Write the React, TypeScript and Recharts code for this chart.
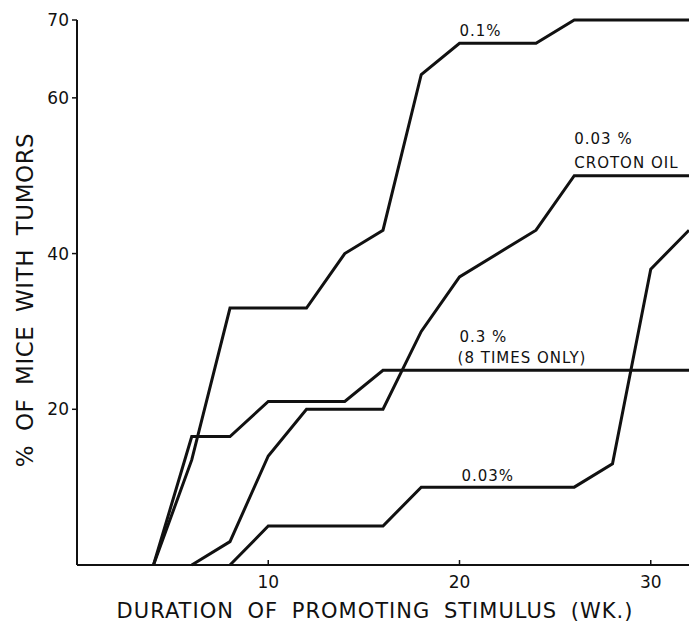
import { LineChart, Line, XAxis, YAxis, ReferenceDot, Label } from "recharts";

// weeks of promotion (x) and % of mice with tumors (y), per treatment
const dose01Weeks = [4, 6, 8, 12, 14, 16, 18, 20, 24, 26, 32];
const dose01Pct = [0, 13.5, 33, 33, 40, 43, 63, 67, 67, 70, 70];

const crotonWeeks = [6, 8, 10, 12, 16, 18, 20, 24, 26, 32];
const crotonPct = [0, 3, 14, 20, 20, 30, 37, 43, 50, 50];

const dose03Weeks = [4, 6, 8, 10, 14, 16, 32];
const dose03Pct = [0, 16.5, 16.5, 21, 21, 25, 25];

const dose003Weeks = [8, 10, 16, 18, 26, 28, 30, 32];
const dose003Pct = [0, 5, 5, 10, 10, 13, 38, 43];

const xTicks = [10, 20, 30];
const yTicks = [20, 40, 60, 70];

// curve labels, anchored in data units (start of text baseline)
const annotations = [
  { x: 20, y: 67.9, text: "0.1%" },
  { x: 26, y: 54.1, text: "0.03 %" },
  { x: 26, y: 51.0, text: "CROTON OIL" },
  { x: 20, y: 28.6, text: "0.3 %" },
  { x: 19.9, y: 25.9, text: "(8 TIMES ONLY)" },
  { x: 20.1, y: 10.8, text: "0.03%" },
];

const toPoints = (xs: number[], ys: number[]) =>
  xs.map((x, i) => ({ x, y: ys[i] }));

const series = [
  { name: "0.1%", data: toPoints(dose01Weeks, dose01Pct) },
  { name: "0.03% croton oil", data: toPoints(crotonWeeks, crotonPct) },
  { name: "0.3%", data: toPoints(dose03Weeks, dose03Pct) },
  { name: "0.03%", data: toPoints(dose003Weeks, dose003Pct) },
];

const INK = "#111";
const FONT = "'DejaVu Sans', sans-serif";

const XTick = (props: any) => {
  const { x, y, payload } = props;
  return (
    <g>
      <line x1={x} x2={x} y1={y - 5} y2={y} stroke={INK} strokeWidth={1.5} />
      <text x={x} y={y + 23} textAnchor="middle" fontSize={17} fill={INK} fontFamily={FONT}>
        {payload.value}
      </text>
    </g>
  );
};

export default function App() {
  return (
    <div style={{ position: "absolute", left: 0, top: 0, background: "#fff" }}>
      <LineChart width={697} height={624} margin={{ top: 20, right: 8, bottom: 0, left: 0 }}>
        <XAxis
          type="number"
          dataKey="x"
          domain={[0, 32]}
          ticks={xTicks}
          tick={<XTick />}
          tickLine={false}
          tickSize={0}
          tickMargin={0}
          height={59}
          axisLine={{ stroke: INK, strokeWidth: 2 }}
          allowDataOverflow
        >
          <Label
            content={() => (
              <text
                x={375}
                y={618}
                textAnchor="middle"
                fontSize={21}
                fill={INK}
                fontFamily={FONT}
                letterSpacing={1}
                wordSpacing={6}
              >
                DURATION OF PROMOTING STIMULUS (WK.)
              </text>
            )}
          />
        </XAxis>
        <YAxis
          type="number"
          domain={[0, 70]}
          ticks={yTicks}
          width={77}
          tickSize={5}
          tickMargin={3}
          tick={{ fontSize: 17, fill: INK, fontFamily: FONT }}
          tickLine={{ stroke: INK, strokeWidth: 1.5 }}
          axisLine={{ stroke: INK, strokeWidth: 2 }}
        >
          <Label
            content={() => (
              <text
                transform="translate(33,300) rotate(-90)"
                textAnchor="middle"
                fontSize={23}
                fill={INK}
                fontFamily={FONT}
                letterSpacing={0.5}
                wordSpacing={6}
              >
                % OF MICE WITH TUMORS
              </text>
            )}
          />
        </YAxis>
        {series.map((s) => (
          <Line
            key={s.name}
            name={s.name}
            data={s.data}
            dataKey="y"
            type="linear"
            stroke={INK}
            strokeWidth={3}
            dot={false}
            activeDot={false}
            isAnimationActive={false}
          />
        ))}
        {annotations.map((a) => (
          <ReferenceDot
            key={a.text}
            x={a.x}
            y={a.y}
            r={0}
            fill="none"
            stroke="none"
            label={(p: any) => (
              <text
                x={p.viewBox.x}
                y={p.viewBox.y}
                fontSize={15}
                fill={INK}
                fontFamily={FONT}
                letterSpacing={1}
              >
                {a.text}
              </text>
            )}
          />
        ))}
      </LineChart>
    </div>
  );
}
